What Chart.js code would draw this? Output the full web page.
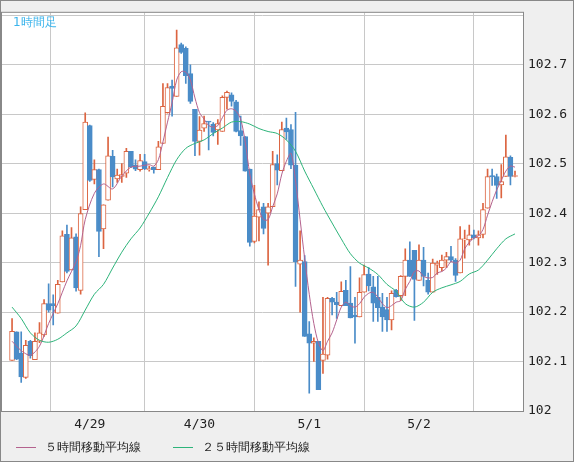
<!DOCTYPE html>
<html><head><meta charset="utf-8">
<script src="https://cdn.jsdelivr.net/npm/chart.js@4/dist/chart.umd.min.js"></script>
<style>html,body{margin:0;padding:0;background:#efefef;}#w{position:relative;width:574px;height:462px;}
#lg{position:absolute;left:16px;top:439px;font:12px "DejaVu Sans";color:#222;white-space:nowrap;}
#lg span{display:inline-block;vertical-align:middle;}
#lg .ln{width:20px;height:0;border-top:1px solid;margin-right:9px;}
</style>
</head><body><div id="w"><canvas id="c" width="574" height="462"></canvas>
<div id="lg"><span class="ln" style="border-color:#b4628e"></span><span id="l1"></span><span style="width:32px"></span><span class="ln" style="border-color:#2db47a"></span><span id="l2"></span></div></div>
<script>
const chartTitle = '1時間足';
const seriesNames = ['５時間移動平均線', '２５時間移動平均線'];
const dayIndex = [0, 17, 41, 65, 89];
const dayLabels = ['', '4/29', '4/30', '5/1', '5/2'];
const yTicks = [102, 102.1, 102.2, 102.3, 102.4, 102.5, 102.6, 102.7, 102.8];
const opens = [102.102,102.16,102.117,102.068,102.141,102.104,102.141,102.154,102.217,102.217,102.198,102.261,102.357,102.285,102.352,102.244,102.407,102.577,102.468,102.488,102.368,102.426,102.515,102.469,102.474,102.481,102.525,102.497,102.488,102.504,102.488,102.493,102.488,102.541,102.603,102.657,102.636,102.741,102.733,102.682,102.61,102.545,102.572,102.585,102.58,102.568,102.565,102.634,102.639,102.625,102.567,102.555,102.489,102.343,102.392,102.413,102.4,102.413,102.5,102.486,102.572,102.569,102.497,102.297,102.302,102.156,102.137,102.141,102.102,102.113,102.228,102.22,102.213,102.244,102.218,102.194,102.19,102.24,102.277,102.251,102.23,102.21,102.205,102.184,102.244,102.233,102.272,102.305,102.325,102.264,102.305,102.264,102.24,102.295,102.29,102.305,102.312,102.305,102.279,102.346,102.346,102.356,102.35,102.357,102.41,102.476,102.474,102.457,102.474,102.513,102.474];
const highs = [102.187,102.16,102.16,102.143,102.143,102.158,102.179,102.225,102.257,102.235,102.264,102.364,102.376,102.371,102.358,102.413,102.603,102.578,102.508,102.489,102.417,102.554,102.527,102.489,102.5,102.531,102.525,102.508,102.519,102.519,102.495,102.493,102.545,102.662,102.662,102.669,102.77,102.744,102.736,102.7,102.61,102.595,102.596,102.585,102.583,102.589,102.637,102.647,102.643,102.628,102.596,102.555,102.489,102.456,102.423,102.42,102.42,102.525,102.518,102.584,102.592,102.579,102.604,102.364,102.314,102.181,102.148,102.141,102.23,102.23,102.23,102.24,102.261,102.264,102.292,102.23,102.269,102.295,102.29,102.272,102.272,102.238,102.23,102.243,102.246,102.274,102.328,102.342,102.325,102.336,102.331,102.279,102.307,102.303,102.315,102.321,102.333,102.308,102.373,102.366,102.376,102.366,102.364,102.42,102.489,102.489,102.479,102.498,102.558,102.516,102.485];
const lows = [102.102,102.104,102.058,102.066,102.107,102.104,102.138,102.151,102.2,102.174,102.198,102.261,102.279,102.285,102.242,102.236,102.407,102.464,102.459,102.312,102.328,102.426,102.453,102.462,102.462,102.472,102.492,102.486,102.485,102.488,102.485,102.481,102.488,102.541,102.602,102.596,102.636,102.723,102.662,102.622,102.516,102.517,102.565,102.528,102.556,102.539,102.565,102.61,102.616,102.564,102.537,102.485,102.333,102.34,102.344,102.358,102.295,102.413,102.457,102.486,102.549,102.49,102.252,102.2,102.151,102.036,102.1,102.043,102.076,102.105,102.194,102.187,102.213,102.213,102.188,102.137,102.19,102.24,102.243,102.181,102.181,102.161,102.161,102.164,102.23,102.223,102.233,102.272,102.183,102.264,102.253,102.236,102.24,102.276,102.283,102.29,102.302,102.262,102.279,102.309,102.335,102.348,102.335,102.35,102.41,102.456,102.43,102.431,102.474,102.457,102.473];
const closes = [102.161,102.105,102.069,102.133,102.112,102.141,102.158,102.217,102.204,102.213,102.256,102.354,102.282,102.35,102.249,102.399,102.584,102.466,102.488,102.363,102.417,102.516,102.473,102.477,102.478,102.525,102.493,102.489,102.506,102.49,102.49,102.488,102.534,102.616,102.654,102.652,102.734,102.725,102.678,102.626,102.545,102.568,102.581,102.584,102.563,102.581,102.634,102.644,102.626,102.565,102.556,102.485,102.341,102.394,102.407,102.369,102.413,102.498,102.487,102.569,102.564,102.497,102.302,102.305,102.151,102.137,102.141,102.043,102.115,102.228,102.22,102.215,102.242,102.213,102.188,102.19,102.24,102.276,102.253,102.218,102.209,102.19,102.184,102.238,102.231,102.272,102.305,102.272,102.266,102.305,102.272,102.24,102.299,102.299,102.305,102.312,102.305,102.274,102.348,102.348,102.356,102.35,102.356,102.407,102.474,102.473,102.456,102.464,102.514,102.474,102.476];
const ma5Idx = [0,2,4,6,8,10,12,14,15,16,18,20,22,24,26,28,30,31,32,33,34,35,36,37,38,39,40,41,42,43,44,45,46,47,48,49,50,51,52,53,54,55,56,57,58,59,60,61,62,63,64,65,66,67,68,69,70,71,72,73,74,75,76,77,78,79,80,81,82,83,84,85,86,87,88,89,90,91,92,93,94,95,96,97,98,99,100,101,102,103,104,105,106,107,108,109,110];
const ma5Val = [102.141,102.122,102.113,102.131,102.177,102.217,102.263,102.302,102.335,102.387,102.44,102.459,102.449,102.475,102.493,102.495,102.498,102.495,102.508,102.544,102.584,102.623,102.669,102.686,102.685,102.669,102.633,102.603,102.59,102.577,102.574,102.577,102.593,102.608,102.611,102.606,102.59,102.544,102.479,102.439,102.407,102.387,102.387,102.413,102.439,102.479,102.505,102.521,102.465,102.387,102.308,102.236,102.177,102.138,102.122,102.141,102.158,102.184,102.21,102.22,102.213,102.21,102.217,102.23,102.238,102.24,102.23,102.217,102.209,102.213,102.22,102.223,102.246,102.262,102.282,102.283,102.272,102.269,102.27,102.279,102.282,102.289,102.302,102.299,102.305,102.328,102.341,102.35,102.354,102.367,102.396,102.423,102.447,102.466,102.485,102.495,102.493];
const ma25Idx = [0,2,4,6,8,10,12,14,16,18,20,22,24,26,28,30,32,34,36,38,40,42,44,46,48,50,52,54,56,58,60,62,64,66,68,70,72,74,76,78,80,82,84,86,88,90,92,94,96,98,100,102,104,106,108,110];
const ma25Val = [102.21,102.187,102.158,102.143,102.139,102.145,102.158,102.172,102.204,102.236,102.256,102.289,102.321,102.348,102.37,102.4,102.433,102.472,102.508,102.531,102.541,102.548,102.561,102.572,102.584,102.585,102.58,102.571,102.565,102.561,102.548,102.525,102.485,102.449,102.413,102.38,102.348,102.318,102.299,102.289,102.276,102.256,102.242,102.217,102.21,102.22,102.24,102.249,102.255,102.262,102.277,102.285,102.305,102.328,102.348,102.358];

document.getElementById('l1').textContent = seriesNames[0];
document.getElementById('l2').textContent = seriesNames[1];

const UP = '#dc6440', DOWN = '#4a8cc8';
const wickData = closes.map((c, i) => ({x: i, y: [lows[i], highs[i]]}));
const bodyData = closes.map((c, i) => ({x: i, y: [opens[i], c]}));
const isUp = i => closes[i] >= opens[i];

const bgPlugin = {
  id: 'bg',
  beforeDraw(ch) {
    const {ctx, chartArea: a} = ch;
    ctx.save();
    ctx.fillStyle = '#efefef'; ctx.fillRect(0, 0, ch.width, ch.height);
    ctx.fillStyle = '#ffffff'; ctx.fillRect(a.left, a.top, a.right - a.left, a.bottom - a.top);
    ctx.restore();
  },
  afterDraw(ch) {
    const {ctx, chartArea: a} = ch;
    ctx.save();
    ctx.strokeStyle = '#888'; ctx.lineWidth = 1;
    ctx.strokeRect(a.left - 0.5, a.top - 0.5, a.right - a.left + 1, a.bottom - a.top + 1);
    ctx.strokeRect(0.5, 0.5, ch.width - 1, ch.height - 1);
    ctx.fillStyle = '#3ab4ec'; ctx.font = '12px "DejaVu Sans"'; ctx.textBaseline = 'top';
    ctx.fillText(chartTitle, a.left + 11, a.top + 4);
    ctx.restore();
  }
};

new Chart(document.getElementById('c'), {
  type: 'bar',
  data: {
    datasets: [
      {label: 'wick', data: wickData, grouped: false, barThickness: 1, order: 3,
       backgroundColor: wickData.map((d, i) => isUp(i) ? UP : DOWN), borderWidth: 0},
      {label: 'body', data: bodyData, grouped: false, barThickness: 5, order: 2, minBarLength: 1,
       backgroundColor: bodyData.map((d, i) => isUp(i) ? '#ffffff' : DOWN),
       borderColor: bodyData.map((d, i) => isUp(i) ? UP : DOWN), borderWidth: 1, borderSkipped: false},
      {type: 'line', label: seriesNames[0], data: ma5Idx.map((x, k) => ({x, y: ma5Val[k]})),
       borderColor: '#b4628e', backgroundColor: '#b4628e', borderWidth: 1, pointRadius: 0, tension: 0.3, order: 1},
      {type: 'line', label: seriesNames[1], data: ma25Idx.map((x, k) => ({x, y: ma25Val[k]})),
       borderColor: '#2db47a', backgroundColor: '#2db47a', borderWidth: 1, pointRadius: 0, tension: 0.3, order: 0}
    ]
  },
  options: {
    responsive: false, animation: false, devicePixelRatio: 1,
    layout: {padding: {left: 2, top: 1, right: 0, bottom: 27}},
    plugins: {tooltip: {enabled: false}, legend: {display: false}},
    scales: {
      x: {
        type: 'linear', min: -2.2, max: 111.75, offset: false,
        afterBuildTicks: ax => { ax.ticks = dayIndex.map(v => ({value: v})); },
        afterFit: ax => { ax.height = 24; },
        ticks: {autoSkip: false, maxRotation: 0, color: '#222', padding: 6,
                font: {family: '"DejaVu Sans Mono"', size: 13},
                callback: v => dayLabels[dayIndex.indexOf(v)]},
        grid: {color: '#c8c8c8', drawTicks: false},
        border: {display: false}
      },
      y: {
        position: 'right', min: 102, max: 102.805,
        afterBuildTicks: ax => { ax.ticks = yTicks.map(v => ({value: v})); },
        afterFit: ax => { ax.width = 51; },
        ticks: {color: '#222', padding: 5, font: {family: '"DejaVu Sans Mono"', size: 13},
                callback: v => v >= 102.8 ? '' : (Math.round(v * 10) / 10).toString()},
        grid: {color: '#c8c8c8', drawTicks: false},
        border: {display: false}
      }
    }
  },
  plugins: [bgPlugin]
});
</script></body></html>
